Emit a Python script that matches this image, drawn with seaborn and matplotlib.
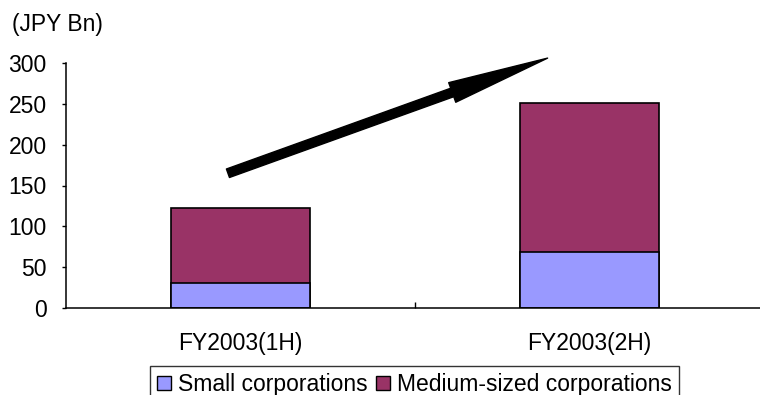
import numpy as np
import pandas as pd
import matplotlib
matplotlib.use("Agg")
import matplotlib.pyplot as plt
import seaborn as sns

# data (JPY Bn)
periods = ["FY2003(1H)", "FY2003(2H)"]
small_corp = [31, 68]
medium_corp = [92, 183]
y_ticks = [0, 50, 100, 150, 200, 250, 300]

sns.set_style("ticks")
plt.rcParams["font.family"] = ["Liberation Sans", "DejaVu Sans"]
plt.rcParams["font.size"] = 16.5
for key in ["text.color", "axes.labelcolor", "xtick.color", "ytick.color", "axes.edgecolor"]:
    plt.rcParams[key] = "black"

df = pd.DataFrame({
    "period": periods,
    "small": small_corp,
    "total": np.array(small_corp) + np.array(medium_corp),
})

fig = plt.figure(figsize=(7.6, 3.95), dpi=100)
ax = fig.add_axes([66 / 760, 87 / 395, 698 / 760, 245 / 395])

sns.barplot(data=df, x="period", y="total", color="#993366", width=0.4,
            edgecolor="black", linewidth=1.2, saturation=1, ax=ax)
sns.barplot(data=df, x="period", y="small", color="#9999FF", width=0.4,
            edgecolor="black", linewidth=1.2, saturation=1, ax=ax)

ax.set_xlim(-0.5, 1.5)
ax.set_ylim(0, 300)
ax.set_yticks(y_ticks)
ax.set_xlabel("")
ax.set_ylabel("")
sns.despine(ax=ax)
ax.spines["left"].set_linewidth(1.1)
ax.spines["bottom"].set_linewidth(1.1)

# category labels sit between the boundary ticks
ax.set_xticks([0.5])
ax.set_xticklabels([""])
ax.set_xticks([0, 1], minor=True)
ax.set_xticklabels(periods, minor=True)
ax.tick_params(axis="x", which="major", direction="in", length=4, width=1)
ax.tick_params(axis="x", which="minor", length=0, pad=17)
ax.tick_params(axis="y", direction="out", length=3, width=1, pad=11)

# growth arrow
ax.annotate("", xy=(0.88, 306), xytext=(-0.036, 165),
            arrowprops=dict(arrowstyle="simple,head_length=73,head_width=15,tail_width=6.5",
                            mutation_scale=1, color="black", shrinkA=0, shrinkB=0),
            annotation_clip=False)

fig.text(12 / 760, 1 - 25 / 395, "(JPY Bn)", ha="left", va="center", fontsize=16.5)

handles = [plt.Rectangle((0, 0), 1, 1, facecolor="#9999FF", edgecolor="black", linewidth=1),
           plt.Rectangle((0, 0), 1, 1, facecolor="#993366", edgecolor="black", linewidth=1)]
leg = fig.legend(handles, ["Small corporations", "Medium-sized corporations"],
                 loc="upper left", bbox_to_anchor=(150 / 760, 1 - 366 / 395),
                 ncol=2, frameon=True, fancybox=False, fontsize=16.5,
                 handlelength=0.6, handleheight=0.6, handletextpad=0.3,
                 columnspacing=0.4, borderpad=0.3, borderaxespad=0)
leg.get_frame().set_edgecolor("black")
leg.get_frame().set_linewidth(1)

fig.savefig("out.png", dpi=100)
